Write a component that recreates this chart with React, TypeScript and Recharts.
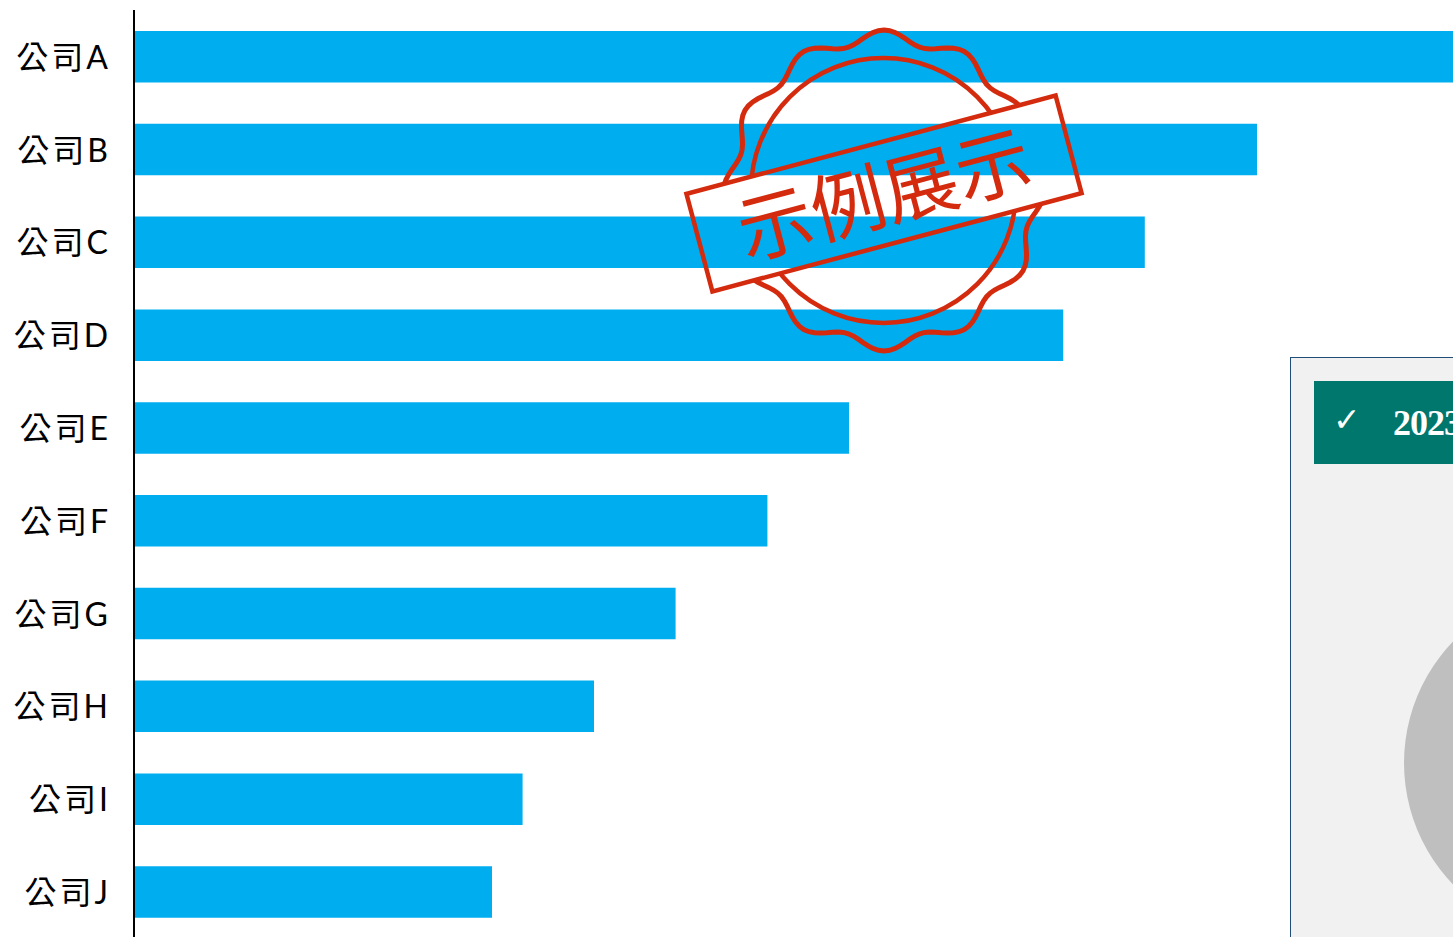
import React from "react";
import { BarChart, Bar, XAxis, YAxis, PieChart, Pie, Cell } from "recharts";

const companies = ["公司A", "公司B", "公司C", "公司D", "公司E", "公司F", "公司G", "公司H", "公司I", "公司J"];
const revenues = [132, 110, 99, 91, 70, 62, 53, 45, 38, 35];
const panelTitle = "2023";
const shareNames = ["其他"];
const shareValues = [100];

const barRows = companies.map((name, i) => ({ name, value: revenues[i] }));
const shareRows = shareNames.map((name, i) => ({ name, value: shareValues[i] }));

const RED = "#d42a0e";
const STAMP_X = 884;
const STAMP_Y = 190.5;

// Scalloped seal outline with twelve lobes.
function sealOutline(): string {
  const parts: string[] = [];
  for (let deg = 0; deg < 360; deg += 2) {
    const a = (deg * Math.PI) / 180;
    const r = 154 + 6.5 * Math.cos(12 * a);
    const x = STAMP_X + r * Math.sin(a);
    const y = STAMP_Y - r * Math.cos(a);
    parts.push(`${deg === 0 ? "M" : "L"}${x.toFixed(2)} ${y.toFixed(2)}`);
  }
  return parts.join(" ") + " Z";
}

function Stamp() {
  const band = { x: 693, y: 143, width: 382, height: 101, transform: "rotate(-14.9 884 193.5)" };
  return (
    <svg width={1453} height={937} style={{ position: "absolute", left: 0, top: 0, pointerEvents: "none" }}>
      <defs>
        <mask id="seal-cut" maskUnits="userSpaceOnUse" x={0} y={0} width={1453} height={937}>
          <rect x={0} y={0} width={1453} height={937} fill="#fff" />
          <rect {...band} fill="#000" />
        </mask>
      </defs>
      <g mask="url(#seal-cut)" fill="none" stroke={RED}>
        <path d={sealOutline()} strokeWidth={5} />
        <circle cx={883.5} cy={190.5} r={132.5} strokeWidth={4.5} />
      </g>
      <rect {...band} fill="none" stroke={RED} strokeWidth={4.5} />
      <text
        x={884}
        y={222}
        transform="rotate(-14.9 884 194)"
        textAnchor="middle"
        fontFamily="'Noto Sans CJK SC'"
        fontWeight={400}
        fontSize={75}
        fill={RED}
      >
        示例展示
      </text>
    </svg>
  );
}

export default function App() {
  return (
    <div style={{ position: "absolute", left: 0, top: 0, width: 1453, height: 937, overflow: "hidden", background: "#fff" }}>
      <BarChart
        width={1600}
        height={938}
        data={barRows}
        layout="vertical"
        margin={{ top: 10, right: 37, bottom: 0, left: 0 }}
        style={{ position: "absolute", left: 0, top: 0 }}
      >
        <XAxis type="number" hide domain={[0, 140]} />
        <YAxis
          type="category"
          dataKey="name"
          width={135}
          tickLine={false}
          tickMargin={18}
          axisLine={{ stroke: "#000", strokeWidth: 2, transform: "translate(-1 0)" }}
          tick={{ fill: "#000", fontSize: 32, letterSpacing: 3, dy: 1, fontFamily: "Lato, 'Noto Sans CJK TC'" }}
          interval={0}
        />
        <Bar dataKey="value" fill="#00adef" barSize={51.5} isAnimationActive={false} />
      </BarChart>

      <div
        style={{
          position: "absolute",
          left: 1290,
          top: 357,
          width: 400,
          height: 700,
          boxSizing: "border-box",
          background: "#f1f1f1",
          border: "1px solid #1f4e79",
        }}
      />
      <div
        style={{
          position: "absolute",
          left: 1314,
          top: 381,
          width: 300,
          height: 83,
          background: "#00776d",
          color: "#fff",
        }}
      >
        <span style={{ position: "absolute", left: 19, top: 19, fontSize: 33, lineHeight: "40px", fontFamily: "'DejaVu Sans'" }}>✓</span>
        <span
          style={{
            position: "absolute",
            left: 79,
            top: 22,
            fontSize: 36,
            letterSpacing: -1,
            lineHeight: "40px",
            fontWeight: 700,
            fontFamily: "'Liberation Serif'",
          }}
        >
          {panelTitle}
        </span>
      </div>

      <PieChart
        width={400}
        height={370}
        margin={{ top: 0, right: 0, bottom: 0, left: 0 }}
        style={{ position: "absolute", left: 1390, top: 580 }}
      >
        <Pie data={shareRows} dataKey="value" cx={189} cy={183} innerRadius={0} outerRadius={175} stroke="none" isAnimationActive={false}>
          {shareRows.map((row) => (
            <Cell key={row.name} fill="#bfbfbf" />
          ))}
        </Pie>
      </PieChart>

      <Stamp />
    </div>
  );
}
